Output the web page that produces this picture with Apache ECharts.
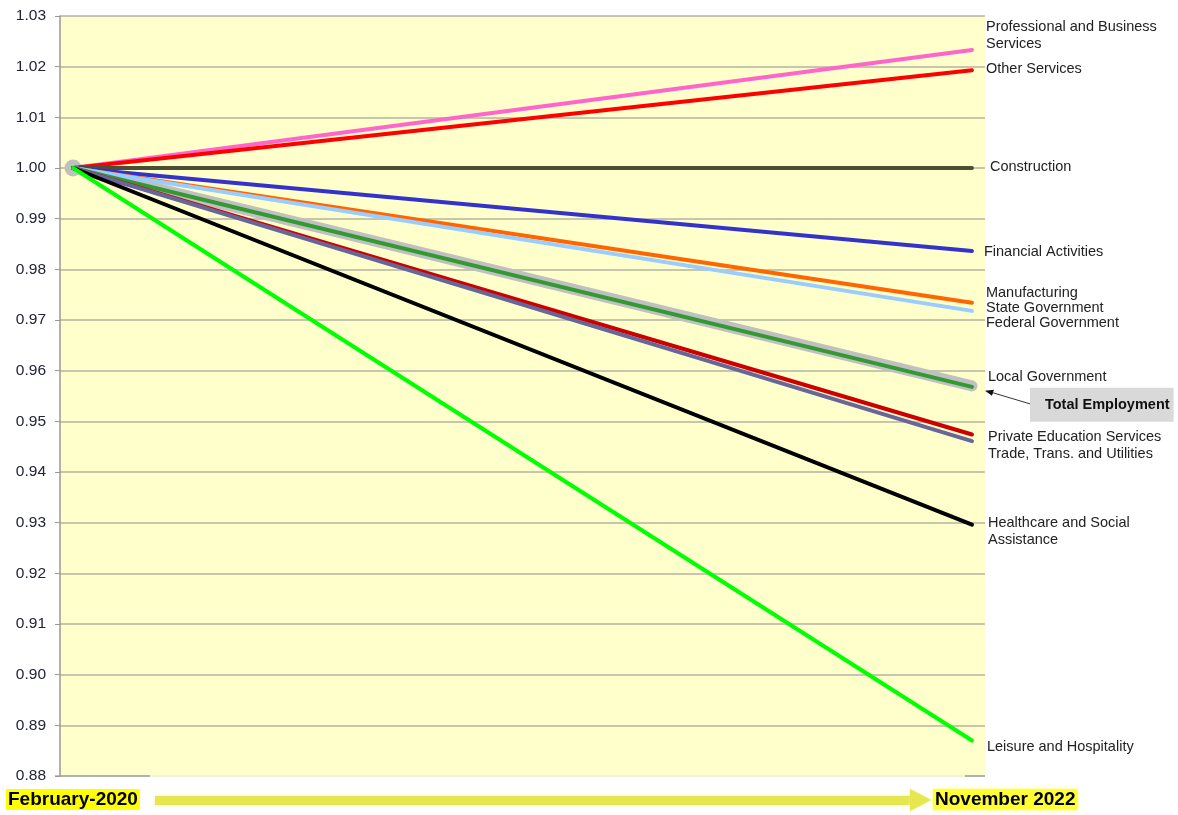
<!DOCTYPE html>
<html>
<head>
<meta charset="utf-8">
<script src="https://cdn.jsdelivr.net/npm/echarts@6/dist/echarts.min.js"></script>
<style>
  html, body { margin: 0; padding: 0; background: #ffffff; }
  #chart { width: 1178px; height: 815px; }
</style>
</head>
<body>
<div id="chart"></div>
<script>
// Employment index by industry, February 2020 = 1.00
const periods = ['February-2020', 'November 2022'];
const yTicks = [0.88, 1.03, 0.01]; // min, max, step

const industries = [
  'Total Employment',
  'Professional and Business\nServices',
  'Other Services',
  'Construction',
  'Financial Activities',
  'Manufacturing',
  'State Government\nFederal Government',
  'Local Government',
  'Private Education Services',
  'Trade, Trans. and Utilities',
  'Healthcare and Social\nAssistance',
  'Leisure and Hospitality'
];
const startValues = [1, 1, 1, 1, 1, 1, 1, 1, 1, 1, 1, 1];
const endValues = [0.9570, 1.0233, 1.0193, 1.0000, 0.9836, 0.9734, 0.9718, 0.9568, 0.9474, 0.9461, 0.9296, 0.8870];

// line styling and end-label placement per industry
const looks = [
  { color: '#c0c0c0', width: 11, dx: 58, dy: 19 },
  { color: '#ff66cc', width: 4, dx: 14, dy: -14 },
  { color: '#ff0000', width: 4, dx: 14, dy: -1 },
  { color: '#4d4d33', width: 4, dx: 18, dy: -1 },
  { color: '#3333cc', width: 4, dx: 12, dy: 1 },
  { color: '#ff6600', width: 4, dx: 14, dy: -10 },
  { color: '#99ccff', width: 4, dx: 14, dy: 5 },
  { color: '#339933', width: 4, dx: 16, dy: -10 },
  { color: '#cc0000', width: 4, dx: 16, dy: 2 },
  { color: '#666699', width: 4, dx: 16, dy: 13 },
  { color: '#000000', width: 4, dx: 16, dy: 7 },
  { color: '#00ff00', width: 4, dx: 15, dy: 6 }
];

const FONT = 'Liberation Sans, Arial, sans-serif';

const series = industries.map((name, i) => {
  const lk = looks[i];
  const isTotal = i === 0;
  return {
    name: name,
    type: 'line',
    data: [[0, startValues[i]], [1, endValues[i]]],
    symbol: isTotal ? 'circle' : 'none',
    symbolSize: (v, p) => (isTotal && p.dataIndex === 0 ? 17 : 0),
    itemStyle: { color: lk.color },
    silent: true,
    clip: false,
    z: isTotal ? 1 : 2 + i,
    lineStyle: { color: lk.color, width: lk.width, cap: 'round' },
    endLabel: {
      show: true,
      formatter: () => isTotal ? 'Total Employment' : name,
      distance: lk.dx,
      offset: [0, lk.dy],
      fontFamily: FONT,
      fontSize: 14.5,
      fontWeight: isTotal ? 'bold' : 'normal',
      color: isTotal ? '#111' : '#222',
      lineHeight: i === 6 ? 15 : 17,
      backgroundColor: isTotal ? '#d9d9d9' : 'transparent',
      padding: isTotal ? [9, 4, 8, 15] : 0
    }
  };
});

const chart = echarts.init(document.getElementById('chart'), null, { renderer: 'canvas' });

const grid = { left: 60, top: 16, width: 925, height: 760 };

chart.setOption({
  animation: false,
  backgroundColor: '#ffffff',
  grid: Object.assign({ show: true, backgroundColor: '#ffffcc', borderWidth: 0 }, grid),
  xAxis: {
    type: 'value',
    min: -0.0145,
    max: 1.0145,
    show: false
  },
  yAxis: {
    type: 'value',
    min: yTicks[0],
    max: yTicks[1],
    interval: yTicks[2],
    axisLine: { show: true, onZero: false, lineStyle: { color: '#999999', width: 1.5 } },
    axisTick: { show: true, length: 5, lineStyle: { color: '#999999' } },
    axisLabel: {
      margin: 14,
      fontFamily: FONT,
      fontSize: 15.5,
      color: '#22223a',
      formatter: v => v.toFixed(2)
    },
    splitLine: { show: true, lineStyle: { color: '#b3b3a3', width: 1.5 } }
  },
  series: series
});

// Pointer from the "Total Employment" box to the end of its line, plus period captions
const endPt = chart.convertToPixel({ xAxisIndex: 0, yAxisIndex: 0 }, [1, endValues[0]]);
const bottomY = grid.top + grid.height;
const arrowY = 800;

chart.setOption({
  graphic: [
    // soft lower edge of the plot, with short axis segments at both ends
    { type: 'line', shape: { x1: 150, y1: bottomY, x2: 965, y2: bottomY }, style: { stroke: '#f2f2dc', lineWidth: 2 }, silent: true, z: 0 },
    { type: 'line', shape: { x1: 55, y1: bottomY, x2: 150, y2: bottomY }, style: { stroke: '#aaaaaa', lineWidth: 1.5 }, silent: true },
    { type: 'line', shape: { x1: 965, y1: bottomY, x2: 985, y2: bottomY }, style: { stroke: '#aaaaaa', lineWidth: 1.5 }, silent: true },
    // callout arrow
    { type: 'line', shape: { x1: 1030, y1: endPt[1] + 18, x2: endPt[0] + 18, y2: endPt[1] + 6 }, style: { stroke: '#333333', lineWidth: 1 }, silent: true, z: 20 },
    { type: 'polygon', shape: { points: [[endPt[0] + 13, endPt[1] + 5], [endPt[0] + 22, endPt[1] + 4], [endPt[0] + 20, endPt[1] + 10]] }, style: { fill: '#111111' }, silent: true, z: 20 },
    // time arrow
    { type: 'rect', shape: { x: 155, y: arrowY - 4, width: 760, height: 9 }, style: { fill: '#e6e650', shadowBlur: 3, shadowColor: '#f0f080' }, silent: true },
    { type: 'polygon', shape: { points: [[910, arrowY - 11], [931, arrowY], [910, arrowY + 11]] }, style: { fill: '#e6e650', shadowBlur: 3, shadowColor: '#f0f080' }, silent: true },
    // period captions
    { type: 'text', left: 6, top: 789, style: { text: periods[0], font: 'bold 19px ' + FONT, fill: '#000', backgroundColor: '#ffff00', padding: [1, 2, 1, 2] }, silent: true },
    { type: 'text', left: 933, top: 789, style: { text: periods[1], font: 'bold 19px ' + FONT, fill: '#000', backgroundColor: '#ffff33', padding: [1, 2, 1, 2], shadowBlur: 4, shadowColor: '#ffff66' }, silent: true }
  ]
});
</script>
</body>
</html>
